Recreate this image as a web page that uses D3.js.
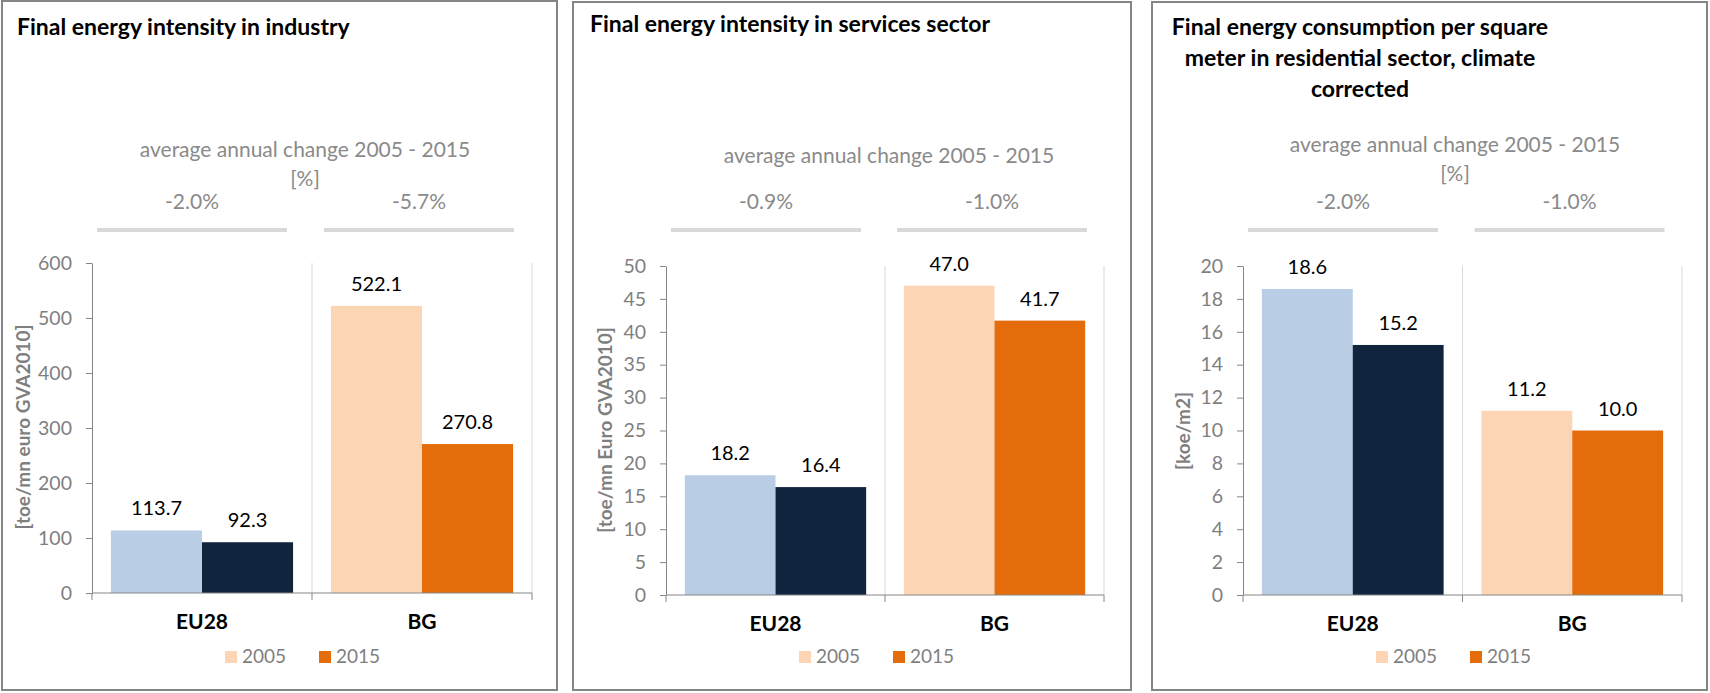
<!DOCTYPE html>
<html lang="en">
<head>
<meta charset="UTF-8">
<title>Final energy intensity and consumption, EU28 vs BG</title>
<script src="https://cdn.jsdelivr.net/npm/d3@7"></script>
<style>
  body { margin: 0; background: #fff; }
  svg { display: block; font-family: Lato, "Open Sans", sans-serif; }
</style>
</head>
<body>
<svg id="chart" width="1710" height="693"></svg>
<script>
// ---- data ----
const categories = ["EU28", "BG"];
const years = ["2005", "2015"];

const industryValues = [[113.7, 92.3], [522.1, 270.8]];
const servicesValues = [[18.2, 16.4], [47.0, 41.7]];
const residentialValues = [[18.6, 15.2], [11.2, 10.0]];

const industryChange = ["-2.0%", "-5.7%"];
const servicesChange = ["-0.9%", "-1.0%"];
const residentialChange = ["-2.0%", "-1.0%"];

const industryTicks = [0, 100, 200, 300, 400, 500, 600];
const servicesTicks = [0, 5, 10, 15, 20, 25, 30, 35, 40, 45, 50];
const residentialTicks = [0, 2, 4, 6, 8, 10, 12, 14, 16, 18, 20];

const industryTitle = ["Final energy intensity in industry"];
const servicesTitle = ["Final energy intensity in services sector"];
const residentialTitle = ["Final energy consumption per square", "meter in residential sector, climate", "corrected"];

const industrySubtitle = ["average annual change 2005 - 2015", "[%]"];
const servicesSubtitle = ["average annual change 2005 - 2015"];
const residentialSubtitle = ["average annual change 2005 - 2015", "[%]"];

const industryUnit = "[toe/mn euro GVA2010]";
const servicesUnit = "[toe/mn Euro GVA2010]";
const residentialUnit = "[koe/m2]";

// colours per category, one per year
const barColors = {
  EU28: ["#b9cde5", "#10243e"],
  BG: ["#fcd5b5", "#e46c0a"]
};
const legendColors = barColors.BG;

// ---- layout of the three boxes ----
const panels = [
  { x: 2, y: 1, w: 555, h: 689, left: 90, top: 263, bottom: 593, plotW: 440,
    title: industryTitle, titleX: 15, titleY: 35, titleAnchor: "start",
    sub: industrySubtitle, subX: 303, subY: 157,
    values: industryValues, ticks: industryTicks, change: industryChange,
    unit: industryUnit, unitX: 21, unitY: 427 },
  { x: 573, y: 2, w: 558, h: 688, left: 93, top: 266, bottom: 595, plotW: 438,
    title: servicesTitle, titleX: 17, titleY: 32, titleAnchor: "start",
    sub: servicesSubtitle, subX: 316, subY: 163,
    values: servicesValues, ticks: servicesTicks, change: servicesChange,
    unit: servicesUnit, unitX: 32, unitY: 430 },
  { x: 1152, y: 2, w: 555, h: 688, left: 91, top: 266, bottom: 595, plotW: 439,
    title: residentialTitle, titleX: 208, titleY: 35, titleAnchor: "middle",
    sub: residentialSubtitle, subX: 303, subY: 152,
    values: residentialValues, ticks: residentialTicks, change: residentialChange,
    unit: residentialUnit, unitX: 31, unitY: 431 }
];

const svg = d3.select("#chart");

panels.forEach(p => {
  const g = svg.append("g").attr("transform", `translate(${p.x},0)`);

  // frame
  g.append("rect")
    .attr("x", 0).attr("y", p.y)
    .attr("width", p.w).attr("height", p.h)
    .attr("fill", "#fff")
    .attr("stroke", "#858585")
    .attr("stroke-width", 2);

  // title
  g.append("text")
    .attr("text-anchor", p.titleAnchor)
    .attr("font-weight", "bold")
    .attr("font-size", 23)
    .attr("fill", "#000")
    .selectAll("tspan")
    .data(p.title)
    .join("tspan")
    .attr("x", p.titleX)
    .attr("y", (d, i) => p.titleY + i * 31)
    .text(d => d);

  // subtitle
  g.append("text")
    .attr("text-anchor", "middle")
    .attr("font-size", 21)
    .attr("fill", "#8a8a8a")
    .selectAll("tspan")
    .data(p.sub)
    .join("tspan")
    .attr("x", p.subX)
    .attr("y", (d, i) => p.subY + i * 29)
    .text(d => d);

  // scales
  const x0 = d3.scaleBand()
    .domain(categories)
    .range([p.left, p.left + p.plotW]);
  const bw = x0.bandwidth();
  const x1 = d3.scaleBand()
    .domain(years)
    .range([bw * 0.086, bw * 0.914]);
  const y = d3.scaleLinear()
    .domain(d3.extent(p.ticks))
    .range([p.bottom, p.top]);

  // change labels with gray bars underneath
  const changeOffset = [100, 107];
  categories.forEach((c, i) => {
    const cx = x0(c) + changeOffset[i];
    g.append("text")
      .attr("x", cx).attr("y", 209)
      .attr("text-anchor", "middle")
      .attr("font-size", 21)
      .attr("fill", "#8a8a8a")
      .text(p.change[i]);
    g.append("rect")
      .attr("x", cx - 95).attr("y", 228)
      .attr("width", 190).attr("height", 4)
      .attr("fill", "#d9d9d9");
  });

  // vertical separators between categories
  g.selectAll(".sep")
    .data([1, 2])
    .join("line")
    .attr("x1", d => p.left + d * x0.step())
    .attr("x2", d => p.left + d * x0.step())
    .attr("y1", p.top)
    .attr("y2", p.bottom)
    .attr("stroke", "#d9d9d9")
    .attr("stroke-width", 1);

  // bars
  const groups = g.selectAll(".grp")
    .data(categories)
    .join("g")
    .attr("transform", c => `translate(${x0(c)},0)`);

  groups.each(function(c, ci) {
    const vals = p.values[ci];
    const grp = d3.select(this);
    grp.selectAll("rect")
      .data(vals)
      .join("rect")
      .attr("x", (d, i) => x1(years[i]))
      .attr("y", d => y(d))
      .attr("width", x1.bandwidth())
      .attr("height", d => y(0) - y(d))
      .attr("fill", (d, i) => barColors[c][i]);
    grp.selectAll("text")
      .data(vals)
      .join("text")
      .attr("x", (d, i) => x1(years[i]) + x1.bandwidth() / 2)
      .attr("y", d => y(d) - 15)
      .attr("text-anchor", "middle")
      .attr("font-size", 20)
      .attr("fill", "#000")
      .text(d => d.toFixed(1));
  });

  // y axis
  const yAxis = g.append("g")
    .attr("transform", `translate(${p.left},0)`)
    .call(d3.axisLeft(y).tickValues(p.ticks).tickSize(6).tickSizeOuter(0).tickPadding(14));
  yAxis.select(".domain").attr("stroke", "#868686");
  yAxis.selectAll(".tick line").attr("stroke", "#868686");
  yAxis.selectAll(".tick text")
    .attr("font-family", "Lato, 'Open Sans', sans-serif")
    .attr("font-size", 19.5)
    .attr("fill", "#7f7f7f");

  // x axis line with tick marks at category boundaries
  g.append("line")
    .attr("x1", p.left).attr("x2", p.left + p.plotW)
    .attr("y1", y(0)).attr("y2", y(0))
    .attr("stroke", "#868686");
  g.selectAll(".xtick")
    .data([0, 1, 2])
    .join("line")
    .attr("x1", d => p.left + d * x0.step())
    .attr("x2", d => p.left + d * x0.step())
    .attr("y1", y(0)).attr("y2", y(0) + 7)
    .attr("stroke", "#868686");

  // category labels
  g.selectAll(".cat")
    .data(categories)
    .join("text")
    .attr("x", c => x0(c) + bw / 2)
    .attr("y", p.bottom + 36)
    .attr("text-anchor", "middle")
    .attr("font-weight", "bold")
    .attr("font-size", 21)
    .attr("fill", "#000")
    .text(c => c);

  // y axis title
  g.append("text")
    .attr("transform", `translate(${p.unitX},${p.unitY}) rotate(-90)`)
    .attr("text-anchor", "middle")
    .attr("dy", "0.35em")
    .attr("font-weight", "bold")
    .attr("font-size", 19)
    .attr("fill", "#7f7f7f")
    .text(p.unit);

  // legend
  const legendX = [133, 227];
  years.forEach((yr, i) => {
    g.append("rect")
      .attr("x", p.left + legendX[i]).attr("y", 651)
      .attr("width", 12).attr("height", 12)
      .attr("fill", legendColors[i]);
    g.append("text")
      .attr("x", p.left + legendX[i] + 17).attr("y", 663)
      .attr("font-size", 19)
      .attr("fill", "#7f7f7f")
      .text(yr);
  });
});
</script>
</body>
</html>
